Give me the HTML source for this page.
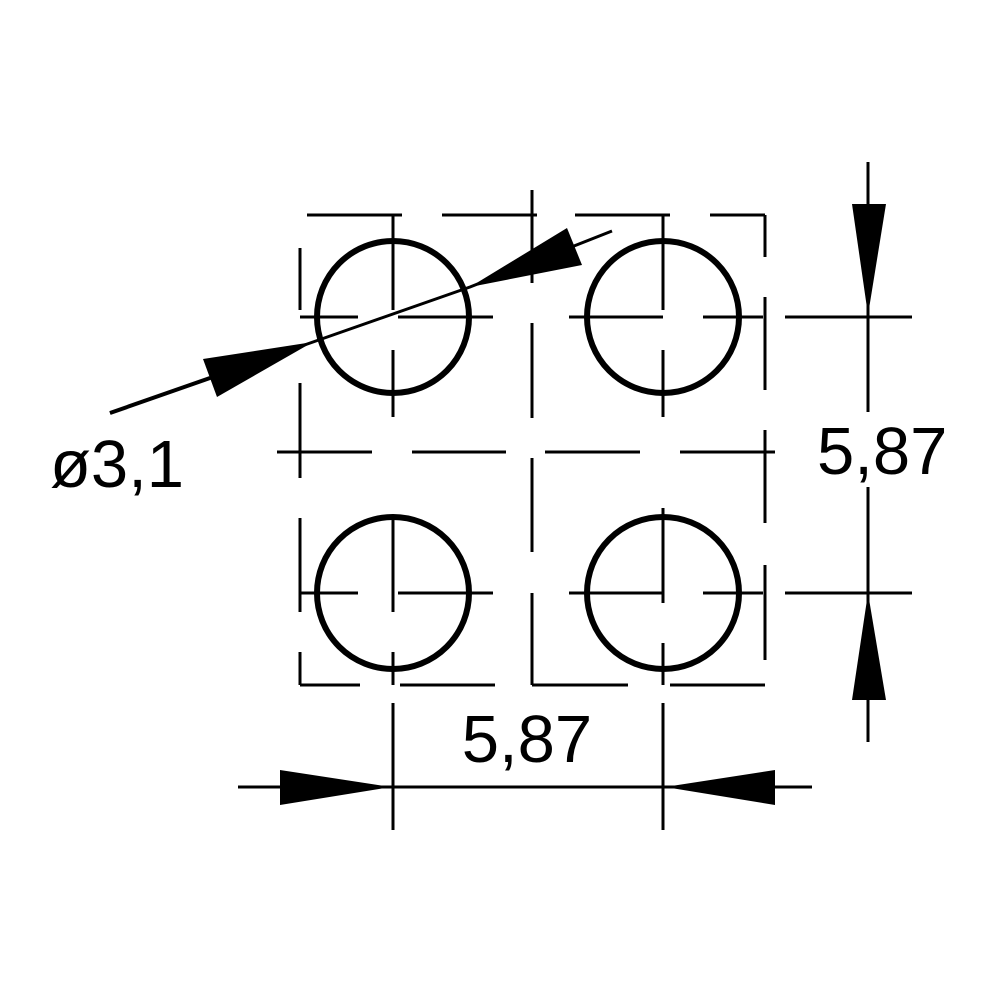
<!DOCTYPE html>
<html><head><style>html,body{margin:0;padding:0;background:#fff}svg{display:block}</style></head>
<body>
<svg width="1000" height="1000" viewBox="0 0 1000 1000" xmlns="http://www.w3.org/2000/svg">
<rect width="1000" height="1000" fill="#fff"/>
<g stroke="#000" stroke-width="3" fill="none">
  <path d="M307 215H402M442 215H537M575 215H670M710 215H765"/>
  <path d="M765 215V257M765 297V390M765 430V523M765 565V660"/>
  <path d="M300 248V310M300 383V478M300 518V612M300 652V685"/>
  <path d="M300 685H360M400 685H495M532 685H628M670 685H765"/>
  <path d="M532 190V283M532 323V418M532 458V552M532 593V685"/>
  <path d="M277 452H372M412 452H506M545 452H640M680 452H775"/>
  <path d="M300 317H358M398 317H493M393 215V310M393 350V417"/>
  <path d="M569 317H663M703 317H763M663 215V310M663 350V417"/>
  <path d="M300 593H358M398 593H493M393 520V612M393 652V685"/>
  <path d="M569 593H663M703 593H763M663 508V603M663 643V685"/>
  <path d="M785 317H912M785 593H912"/>
  <path d="M868 162V412M868 487V742"/>
  <path d="M393 703V830M663 703V830"/>
  <path d="M238 787H812"/>
  <path d="M110 413L313 342L470 287L612 231"/>
  <path d="M110 413L210 378" stroke-width="4"/>
</g>
<g stroke="#000" stroke-width="6" fill="none">
  <circle cx="393" cy="317" r="76"/>
  <circle cx="663" cy="317" r="76"/>
  <circle cx="393" cy="593" r="76"/>
  <circle cx="663" cy="593" r="76"/>
</g>
<g fill="#000">
  <polygon points="852,204 886,204 868,315"/>
  <polygon points="852,700 886,700 868,593"/>
  <polygon points="280,770 280,805 391,787"/>
  <polygon points="775,770 775,805 665,787"/>
  <polygon points="203,359 217,397 313,342"/>
  <polygon points="567,228 582,265 470,287"/>
</g>
<g font-family="Liberation Sans, sans-serif" font-size="67" fill="#000">
  <text x="817" y="474">5,87</text>
  <text x="527" y="762" text-anchor="middle">5,87</text>
  <text x="50" y="487">ø3,1</text>
</g>
</svg>
</body></html>
